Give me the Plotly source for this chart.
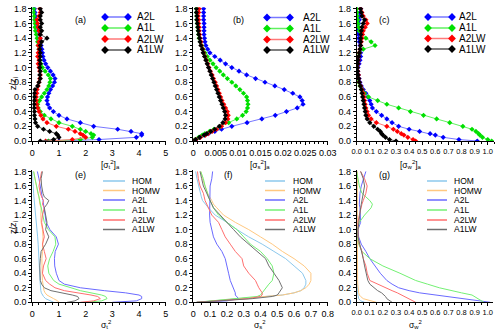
import plotly.graph_objects as go

# heights (z/z_i) of the profile points
Z_TOP = [0, 0.02, 0.05, 0.08, 0.1, 0.13, 0.16, 0.2, 0.25, 0.3, 0.35, 0.4, 0.45, 0.5, 0.55, 0.6,
         0.65, 0.7, 0.75, 0.8, 0.85, 0.9, 0.95, 1.0, 1.05, 1.1, 1.15, 1.2, 1.25, 1.3, 1.35, 1.4,
         1.45, 1.5, 1.55, 1.6, 1.65, 1.7, 1.75, 1.8]
Z_LES = [0, 0.02, 0.05, 0.08, 0.1, 0.13, 0.16, 0.2, 0.25, 0.3, 0.4, 0.5, 0.6, 0.7, 0.8, 0.9,
         1.0, 1.1, 1.2, 1.3, 1.35, 1.4, 1.45, 1.5, 1.6, 1.7, 1.8]

TOP_NAMES = ['A2L', 'A1L', 'A2LW', 'A1LW']
LES_NAMES = ['HOM', 'HOMW', 'A2L', 'A1L', 'A2LW', 'A1LW']

# panel (a)
a_A2L = [1.0, 2.5, 3.9, 4.1, 4.1, 3.7, 3.2, 2.3, 1.8, 1.3, 1.0, 0.79, 0.65, 0.58, 0.55, 0.57,
         0.62, 0.68, 0.76, 0.83, 0.85, 0.78, 0.68, 0.58, 0.5, 0.44, 0.4, 0.38, 0.36, 0.33, 0.31,
         0.29, 0.26, 0.23, 0.2, 0.17, 0.15, 0.12, 0.1, 0.08]
a_A1L = [0.6, 1.8, 2.25, 2.3, 2.2, 2.0, 1.8, 1.5, 1.0, 0.7, 0.45, 0.3, 0.22, 0.2, 0.27, 0.35,
         0.45, 0.55, 0.62, 0.66, 0.68, 0.6, 0.48, 0.38, 0.32, 0.29, 0.27, 0.26, 0.25, 0.22, 0.2,
         0.18, 0.15, 0.12, 0.1, 0.1, 0.08, 0.07, 0.05, 0.05]
a_A2LW = [0.5, 1.5, 2.0, 1.9, 1.8, 1.6, 1.35, 0.9, 0.55, 0.4, 0.32, 0.25, 0.2, 0.17, 0.15, 0.15,
          0.17, 0.18, 0.22, 0.25, 0.28, 0.3, 0.28, 0.25, 0.22, 0.25, 0.2, 0.22, 0.25, 0.22, 0.25,
          0.3, 0.28, 0.25, 0.22, 0.2, 0.18, 0.25, 0.3, 0.28]
a_A1LW = [0.3, 0.8, 1.0, 0.95, 0.9, 0.65, 0.42, 0.2, 0.12, 0.1, 0.08, 0.08, 0.07, 0.07, 0.07, 0.08,
          0.08, 0.1, 0.2, 0.25, 0.3, 0.28, 0.3, 0.28, 0.3, 0.28, 0.3, 0.3, 0.28, 0.3, 0.35,
          0.55, 0.3, 0.35, 0.3, 0.35, 0.3, 0.3, 0.35, 0.3]

# panel (b)
b_A2L = [0, 0.0006, 0.0015, 0.0026, 0.0034, 0.0048, 0.0063, 0.0086, 0.012, 0.0153, 0.0183, 0.0208,
         0.0232, 0.0245, 0.0243, 0.0238, 0.0222, 0.0203, 0.0182, 0.016, 0.0139, 0.0119, 0.0102,
         0.0086, 0.0072, 0.006, 0.0048, 0.0037, 0.0032, 0.0028, 0.0026, 0.0025, 0.0024, 0.0024,
         0.0024, 0.0024, 0.0023, 0.0023, 0.0023, 0.0023]
b_A1L = [0, 0.0004, 0.0012, 0.002, 0.0026, 0.0036, 0.0046, 0.006, 0.0079, 0.0097, 0.011, 0.0118,
         0.0121, 0.0122, 0.0121, 0.0119, 0.0112, 0.0104, 0.0095, 0.0086, 0.0076, 0.0067, 0.0059,
         0.0051, 0.0044, 0.0037, 0.0031, 0.0026, 0.0022, 0.0019, 0.0016, 0.0013, 0.0012, 0.0011,
         0.001, 0.0009, 0.0008, 0.0008, 0.0007, 0.0007]
b_A2LW = [0, 0.0006, 0.0016, 0.0027, 0.0033, 0.0042, 0.0052, 0.0063, 0.0072, 0.0077, 0.0078, 0.0076,
          0.0072, 0.0068, 0.0064, 0.0061, 0.0058, 0.0055, 0.0052, 0.0049, 0.0045, 0.0042, 0.0038,
          0.0035, 0.0032, 0.0029, 0.0026, 0.0023, 0.0021, 0.0018, 0.0017, 0.0015, 0.0014, 0.0013,
          0.0013, 0.0012, 0.0012, 0.0011, 0.0012, 0.0013]
b_A1LW = [0, 0.0005, 0.0014, 0.0024, 0.003, 0.0039, 0.0048, 0.0058, 0.0066, 0.0071, 0.0072, 0.007,
          0.0067, 0.0064, 0.0061, 0.0058, 0.0055, 0.0052, 0.0049, 0.0046, 0.0043, 0.004, 0.0037,
          0.0034, 0.0031, 0.0028, 0.0025, 0.0022, 0.002, 0.0017, 0.0015, 0.0014, 0.0012, 0.0011,
          0.001, 0.0009, 0.0008, 0.0008, 0.0007, 0.0007]

# panel (c)
c_A2L = [0.92, 0.78, 0.66, 0.6, 0.56, 0.48, 0.4, 0.32, 0.27, 0.23, 0.19, 0.15, 0.12, 0.11, 0.1,
         0.085, 0.07, 0.05, 0.035, 0.025, 0.018, 0.012, 0.008, 0.01, 0.018, 0.025, 0.03, 0.03,
         0.028, 0.025, 0.02, 0.015, 0.012, 0.01, 0.012, 0.015, 0.02, 0.022, 0.025, 0.03]
c_A1L = [1.03, 1.0, 0.96, 0.94, 0.93, 0.91, 0.88, 0.81, 0.71, 0.61, 0.51, 0.41, 0.32, 0.23, 0.16,
         0.09, 0.06, 0.04, 0.025, 0.015, 0.01, 0.005, 0.002, 0.0, 0.002, 0.005, 0.01, 0.02, 0.05,
         0.14, 0.11, 0.07, 0.04, 0.02, 0.015, 0.01, 0.008, 0.005, 0.003, 0.0]
c_A2LW = [0.45, 0.43, 0.39, 0.36, 0.34, 0.31, 0.28, 0.23, 0.15, 0.11, 0.09, 0.08, 0.07, 0.065, 0.06,
          0.055, 0.05, 0.04, 0.03, 0.02, 0.016, 0.013, 0.008, 0.005, 0.01, 0.012, 0.015, 0.02,
          0.025, 0.03, 0.035, 0.04, 0.045, 0.05, 0.065, 0.08, 0.07, 0.05, 0.04, 0.03]
c_A1LW = [0.3, 0.25, 0.22, 0.2, 0.19, 0.18, 0.16, 0.13, 0.1, 0.08, 0.07, 0.065, 0.06, 0.055, 0.05,
          0.045, 0.04, 0.035, 0.028, 0.02, 0.015, 0.01, 0.007, 0.005, 0.008, 0.01, 0.015, 0.02,
          0.025, 0.03, 0.03, 0.03, 0.032, 0.035, 0.04, 0.05, 0.06, 0.04, 0.035, 0.03]

# panel (e)
e_HOM = [0.8, 0.65, 0.5, 0.42, 0.38, 0.34, 0.32, 0.3, 0.3, 0.29, 0.28, 0.27, 0.25, 0.24, 0.22, 0.2,
         0.17, 0.15, 0.12, 0.1, 0.09, 0.07, 0.06, 0.05, 0.03, 0.01, 0.0]
e_HOMW = [1.0, 0.95, 0.8, 0.65, 0.55, 0.48, 0.44, 0.42, 0.4, 0.38, 0.37, 0.36, 0.36, 0.38, 0.4, 0.4,
          0.38, 0.33, 0.32, 0.33, 0.28, 0.27, 0.25, 0.21, 0.15, 0.1, 0.05]
e_A2L = [3.0, 3.9, 4.1, 4.1, 4.0, 3.5, 2.7, 1.8, 1.2, 1.0, 0.9, 0.84, 0.83, 0.86, 0.98, 0.9, 0.66,
         0.52, 0.48, 0.45, 0.42, 0.4, 0.37, 0.35, 0.3, 0.25, 0.19]
e_A1L = [2.0, 2.6, 2.8, 2.75, 2.6, 2.2, 1.8, 1.45, 1.0, 0.8, 0.62, 0.58, 0.65, 0.78, 0.88, 0.85,
         0.6, 0.45, 0.4, 0.35, 0.32, 0.28, 0.25, 0.22, 0.15, 0.1, 0.05]
e_A2LW = [1.8, 2.3, 2.55, 2.45, 2.2, 1.7, 1.2, 0.85, 0.65, 0.5, 0.38, 0.42, 0.52, 0.45, 0.38, 0.45,
          0.4, 0.35, 0.38, 0.45, 0.38, 0.42, 0.35, 0.3, 0.25, 0.3, 0.35]
e_A1LW = [1.3, 1.6, 1.75, 1.7, 1.5, 1.1, 0.7, 0.45, 0.35, 0.3, 0.28, 0.28, 0.3, 0.33, 0.5, 0.62,
          0.5, 0.55, 0.5, 0.45, 0.55, 0.62, 0.45, 0.4, 0.35, 0.33, 0.38]

# panel (f)
f_HOM = [0.02, 0.12, 0.3, 0.45, 0.53, 0.6, 0.64, 0.66, 0.67, 0.67, 0.65, 0.6, 0.55, 0.48, 0.41,
         0.33, 0.26, 0.2, 0.13, 0.09, 0.07, 0.055, 0.048, 0.042, 0.032, 0.022, 0.014]
f_HOMW = [0.02, 0.12, 0.3, 0.45, 0.53, 0.6, 0.64, 0.67, 0.69, 0.7, 0.7, 0.66, 0.6, 0.53, 0.47, 0.4,
          0.33, 0.25, 0.18, 0.14, 0.12, 0.11, 0.095, 0.085, 0.07, 0.055, 0.045]
f_A2L = [0.02, 0.2, 0.27, 0.26, 0.25, 0.25, 0.245, 0.24, 0.23, 0.22, 0.21, 0.2, 0.19, 0.17, 0.14,
         0.12, 0.11, 0.1, 0.097, 0.097, 0.097, 0.097, 0.098, 0.1, 0.1, 0.11, 0.115]
f_A1L = [0.02, 0.12, 0.28, 0.38, 0.4, 0.41, 0.42, 0.43, 0.45, 0.47, 0.48, 0.47, 0.44, 0.4, 0.34,
         0.3, 0.26, 0.2, 0.15, 0.12, 0.11, 0.1, 0.09, 0.085, 0.07, 0.06, 0.044]
f_A2LW = [0.02, 0.15, 0.33, 0.4, 0.41, 0.41, 0.4, 0.39, 0.38, 0.37, 0.33, 0.3, 0.29, 0.25, 0.22,
          0.19, 0.17, 0.15, 0.11, 0.09, 0.08, 0.07, 0.065, 0.06, 0.04, 0.03, 0.025]
f_A1LW = [0.02, 0.15, 0.35, 0.47, 0.5, 0.51, 0.52, 0.53, 0.52, 0.51, 0.48, 0.45, 0.43, 0.38, 0.33,
          0.28, 0.24, 0.2, 0.16, 0.12, 0.11, 0.1, 0.09, 0.08, 0.06, 0.05, 0.04]

# panel (g)
g_HOM = [0.06, 0.03, 0.015, 0.01, 0.008, 0.006, 0.005, 0.004, 0.004, 0.003, 0.003, 0.002, 0.002,
         0.002, 0.002, 0.002, 0.002, 0.002, 0.002, 0.002, 0.002, 0.002, 0.002, 0.002, 0.002, 0.002,
         0.002]
g_HOMW = [0.15, 0.1, 0.05, 0.03, 0.02, 0.015, 0.012, 0.01, 0.008, 0.007, 0.006, 0.005, 0.005, 0.005,
          0.005, 0.005, 0.005, 0.005, 0.005, 0.005, 0.005, 0.005, 0.005, 0.005, 0.005, 0.005, 0.005]
g_A2L = [1.02, 0.94, 0.78, 0.66, 0.58, 0.48, 0.4, 0.32, 0.27, 0.23, 0.18, 0.14, 0.1, 0.07, 0.035,
         0.015, 0.01, 0.03, 0.03, 0.025, 0.02, 0.02, 0.02, 0.025, 0.035, 0.05, 0.07]
g_A1L = [0.97, 0.95, 0.93, 0.9, 0.88, 0.8, 0.72, 0.63, 0.54, 0.45, 0.33, 0.2, 0.1, 0.04, 0.015,
         0.005, 0.005, 0.02, 0.06, 0.11, 0.12, 0.1, 0.07, 0.04, 0.02, 0.01, 0.0]
g_A2LW = [0.45, 0.43, 0.4, 0.37, 0.35, 0.31, 0.27, 0.22, 0.15, 0.1, 0.08, 0.07, 0.05, 0.04, 0.02,
          0.01, 0.01, 0.01, 0.02, 0.03, 0.04, 0.05, 0.06, 0.07, 0.08, 0.06, 0.03]
g_A1LW = [0.27, 0.25, 0.23, 0.22, 0.21, 0.19, 0.16, 0.13, 0.1, 0.085, 0.07, 0.06, 0.05, 0.035, 0.02,
          0.01, 0.01, 0.015, 0.02, 0.03, 0.035, 0.04, 0.045, 0.05, 0.06, 0.05, 0.03]

TOP_COLORS = {'A2L': ('#0000ff', '#7878ff'), 'A1L': ('#00e000', '#60f060'),
              'A2LW': ('#ff0000', '#ff7878'), 'A1LW': ('#000000', '#555555')}
LES_COLORS = {'HOM': '#8cc8ec', 'HOMW': '#ffc880', 'A2L': '#6a6aff', 'A1L': '#74f074',
              'A2LW': '#ff6e6e', 'A1LW': '#707070'}

W, H = 500, 333
FONT = 'Liberation Sans, Arial, sans-serif'


def px(x):
    return x / W


def py(y):
    return 1 - y / H


fig = go.Figure()

top_panels = [
    ('', {'A2L': a_A2L, 'A1L': a_A1L, 'A2LW': a_A2LW, 'A1LW': a_A1LW}),
    ('2', {'A2L': b_A2L, 'A1L': b_A1L, 'A2LW': b_A2LW, 'A1LW': b_A1LW}),
    ('3', {'A2L': c_A2L, 'A1L': c_A1L, 'A2LW': c_A2LW, 'A1LW': c_A1LW}),
]
les_panels = [
    ('4', {'HOM': e_HOM, 'HOMW': e_HOMW, 'A2L': e_A2L, 'A1L': e_A1L, 'A2LW': e_A2LW, 'A1LW': e_A1LW}),
    ('5', {'HOM': f_HOM, 'HOMW': f_HOMW, 'A2L': f_A2L, 'A1L': f_A1L, 'A2LW': f_A2LW, 'A1LW': f_A1LW}),
    ('6', {'HOM': g_HOM, 'HOMW': g_HOMW, 'A2L': g_A2L, 'A1L': g_A1L, 'A2LW': g_A2LW, 'A1LW': g_A1LW}),
]

# profiles with markers (top row)
for ax, series in top_panels:
    for name in TOP_NAMES:
        mk, ln = TOP_COLORS[name]
        fig.add_trace(go.Scatter(x=series[name], y=Z_TOP, mode='lines+markers', name=name,
                                 xaxis='x' + ax, yaxis='y' + ax,
                                 line=dict(color=ln, width=1),
                                 marker=dict(symbol='diamond', size=4, color=mk)))

# LES profiles (bottom row)
for ax, series in les_panels:
    for name in LES_NAMES:
        fig.add_trace(go.Scatter(x=series[name], y=Z_LES, mode='lines', name=name,
                                 xaxis='x' + ax, yaxis='y' + ax,
                                 line=dict(color=LES_COLORS[name], width=1)))

# hand-drawn legends, the legend glyphs live on a pixel overlay axis
legend_boxes = [
    (105, 128, 135, [17, 28, 39, 50], TOP_NAMES, True),
    (267, 290, 301, [17.5, 28.5, 39.5, 50], TOP_NAMES, True),
    (428, 452, 457, [17, 28, 38.5, 49], TOP_NAMES, True),
    (103, 125, 130, [181, 190.5, 200, 210, 220, 229.5], LES_NAMES, False),
    (265, 285, 291, [181, 190.5, 200, 210, 220, 229.5], LES_NAMES, False),
    (427, 447, 452, [181, 190.5, 200, 210, 220, 229.5], LES_NAMES, False),
]
annotations = []
for x0, x1, xt, ys, names, with_markers in legend_boxes:
    for name, y in zip(names, ys):
        if with_markers:
            mk, ln = TOP_COLORS[name]
            fig.add_trace(go.Scatter(x=[x0, x1], y=[y, y], mode='lines+markers', xaxis='x7', yaxis='y7',
                                     line=dict(color=ln, width=1.5),
                                     marker=dict(symbol='diamond', size=6, color=mk),
                                     hoverinfo='skip'))
        else:
            fig.add_trace(go.Scatter(x=[x0, x1], y=[y, y], mode='lines', xaxis='x7', yaxis='y7',
                                     line=dict(color=LES_COLORS[name], width=1.5), hoverinfo='skip'))
        annotations.append(dict(x=px(xt), y=py(y), xref='paper', yref='paper', text=name,
                                showarrow=False, xanchor='left', yanchor='middle',
                                font=dict(size=10 if with_markers else 8.5, color='black',
                                          family=FONT)))

# panel letters
for label, x, y in [('(a)', 73, 13), ('(b)', 238, 13), ('(c)', 392, 13),
                    ('(e)', 73, 175), ('(f)', 228, 175), ('(g)', 392, 175)]:
    annotations.append(dict(x=px(x), y=py(y), xref='paper', yref='paper', text=label,
                            showarrow=False, font=dict(size=9, color='black', family=FONT)))

# axis titles, under the tick labels
for text, x, y in [('[σ<sub>t</sub><sup>2</sup>]<sub>a</sub>', 99, 164),
                   ('[σ<sub>s</sub><sup>2</sup>]<sub>a</sub>', 260, 164),
                   ('[σ<sub>w</sub><sup>2</sup>]<sub>a</sub>', 424, 164),
                   ('σ<sub>t</sub><sup>2</sup>', 99, 324),
                   ('σ<sub>s</sub><sup>2</sup>', 260, 324),
                   ('σ<sub>w</sub><sup>2</sup>', 424, 324)]:
    annotations.append(dict(x=px(x), y=py(y), xref='paper', yref='paper', text=text,
                            showarrow=False, yanchor='middle',
                            font=dict(size=8.5, color='black', family=FONT)))
for y in [75, 236]:
    annotations.append(dict(x=px(6), y=py(y), xref='paper', yref='paper', text='z/z<sub>i</sub>',
                            textangle=-90, showarrow=False,
                            font=dict(size=9, color='black', family=FONT)))

axis_style = dict(showline=True, linecolor='black', linewidth=1, ticks='outside', ticklen=3,
                  tickcolor='black', showgrid=False, zeroline=False, automargin=False,
                  tickangle=0, tickfont=dict(size=9, color='black', family=FONT))

top_y = [py(141), py(7.3)]
low_y = [py(302.3), py(170)]
x_setup = [
    ('xaxis', [px(32.3), px(165.7)], [0, 5], 1, None, 0.25, 9),
    ('xaxis2', [px(193.3), px(327.7)], [0, 0.03], 0.005, None, 0.001, 9),
    ('xaxis3', [px(356.7), px(494.3)], [0, 1.05], 0.1, '.1f', 0.05, 7.5),
    ('xaxis4', [px(32.3), px(165.7)], [0, 5], 1, None, 0.25, 9),
    ('xaxis5', [px(193.3), px(327.7)], [0, 0.8], 0.1, None, 0.05, 9),
    ('xaxis6', [px(356.7), px(493)], [0, 1.04], 0.1, '.1f', 0.05, 7.5),
]
layout_axes = {}
for i, (key, dom, rng, dt, fmt, mdt, fs) in enumerate(x_setup):
    suffix = '' if i == 0 else str(i + 1)
    xa = dict(axis_style, domain=dom, range=rng, dtick=dt, tick0=0, anchor='y' + suffix,
              tickfont=dict(size=fs, color='black', family=FONT),
              minor=dict(ticks='outside', ticklen=2, dtick=mdt, tickcolor='black'))
    if fmt:
        xa['tickformat'] = fmt
    layout_axes[key] = xa
    layout_axes['yaxis' + suffix] = dict(axis_style, domain=top_y if i < 3 else low_y,
                                         range=[0, 1.82], dtick=0.2, tick0=0, tickformat='.1f',
                                         anchor='x' + suffix,
                                         minor=dict(ticks='outside', ticklen=2, dtick=0.05,
                                                    tickcolor='black'))
layout_axes['xaxis7'] = dict(domain=[0, 1], range=[0, W], visible=False, anchor='y7',
                             automargin=False)
layout_axes['yaxis7'] = dict(domain=[0, 1], range=[H, 0], visible=False, anchor='x7',
                             automargin=False)

# transparent plot area so the overlay axis doesn't hide the panels
fig.update_layout(template='none', width=W, height=H, margin=dict(l=0, r=0, t=0, b=0),
                  paper_bgcolor='white', plot_bgcolor='rgba(0,0,0,0)', showlegend=False,
                  annotations=annotations, font=dict(family=FONT), **layout_axes)

# drop the default page margin so the figure sits in the window corner
fig.write_html("out.html", config={'displayModeBar': False},
               post_script="document.body.style.margin='0';")
